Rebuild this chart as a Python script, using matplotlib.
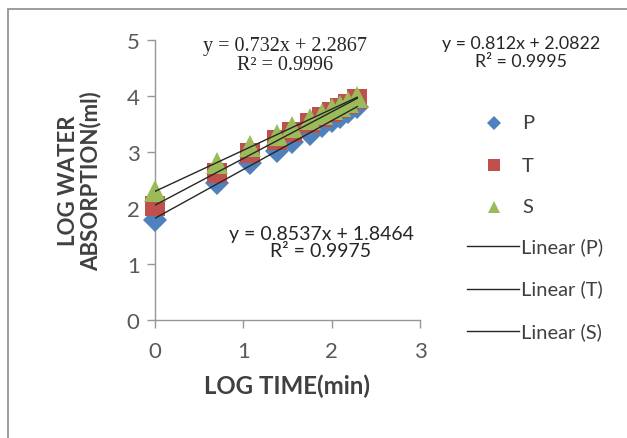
import numpy as np
import matplotlib
matplotlib.use("Agg")
import matplotlib.pyplot as plt
from matplotlib.patches import Rectangle
from matplotlib.lines import Line2D

# ---- data ----
log_time = [0.0, 0.699, 1.079, 1.380, 1.556, 1.756, 1.886, 2.0, 2.097, 2.190, 2.290]
P = [1.78, 2.45, 2.80, 3.02, 3.18, 3.33, 3.46, 3.55, 3.63, 3.72, 3.81]
T = [2.03, 2.63, 2.98, 3.21, 3.36, 3.52, 3.62, 3.72, 3.79, 3.86, 3.95]
S = [2.30, 2.80, 3.10, 3.30, 3.45, 3.59, 3.68, 3.76, 3.83, 3.90, 3.99]
series_names = ["P", "T", "S"]
eq_texts = ["y = 0.8537x + 1.8464\nR² = 0.9975",
            "y = 0.812x + 2.0822\nR² = 0.9995",
            "y = 0.732x + 2.2867\nR² = 0.9996"]
x_ticks = [0, 1, 2, 3]
y_ticks = [0, 1, 2, 3, 4, 5]

colors = ["#4F81BD", "#C0504D", "#9BBB59"]
markers = ["D", "s", "^"]
msizes = [12.5, 14.5, 16]
leg_msizes = [7.5, 8, 9]
sans = ["Lato", "DejaVu Sans"]
tick_color = "#595959"

W, H = 627, 439
fig = plt.figure(figsize=(W / 100, H / 100), dpi=100)

# chart border
fig.patches.append(Rectangle((8 / W, -0.05), 1.1, 1 - 10 / H + 0.05, transform=fig.transFigure,
                             fill=False, edgecolor="#8c8c8c", linewidth=1.2))

ax = fig.add_axes([155 / W, (H - 321) / H, 265 / W, 280 / H])
ax.set_xlim(0, 3)
ax.set_ylim(0, 5)
for side in ["top", "right"]:
    ax.spines[side].set_visible(False)
for side in ["left", "bottom"]:
    ax.spines[side].set_color("#969696")
    ax.spines[side].set_linewidth(1.0)
ax.set_xticks(x_ticks)
ax.set_yticks(y_ticks)
ax.tick_params(axis="both", direction="out", length=6, width=1, color="#969696",
               labelsize=16, labelcolor=tick_color, pad=5)
ax.tick_params(axis="x", pad=9)
for lab in ax.get_xticklabels() + ax.get_yticklabels():
    lab.set_family(sans)

x = np.array(log_time)
for ys, c, m, ms, name in zip([P, T, S], colors, markers, msizes, series_names):
    ax.plot(x, ys, linestyle="none", marker=m, color=c, markersize=ms,
            markeredgewidth=0, clip_on=False, zorder=3)
for ys in [P, T, S]:
    k, b = np.polyfit(x, ys, 1)
    xx = np.array([x.min(), x.max()])
    ax.plot(xx, k * xx + b, color="#262626", linewidth=1.0, zorder=4)

ax.set_xlabel("LOG TIME(min)", fontsize=17.3, fontweight="bold", color="#404040",
              family=sans, labelpad=9)
fig.text(80 / W, 1 - 181 / H, "LOG WATER\nABSORPTION(ml)", rotation=90, ha="center",
         va="center", fontsize=16, fontweight="bold", color="#404040", family=sans,
         linespacing=1.05)

# equation labels
fig.text(285 / W, 1 - 56 / H, eq_texts[2], ha="center", va="center", fontsize=14.5,
         family=["Liberation Serif", "DejaVu Serif"], color="#262626", linespacing=0.95)
fig.text(521 / W, 1 - 53 / H, eq_texts[1], ha="center", va="center", fontsize=12.8,
         family=sans, color="#262626", linespacing=1.1)
fig.text(321 / W, 1 - 243 / H, eq_texts[0], ha="center", va="center", fontsize=14,
         family=sans, color="#262626", linespacing=0.95)

# legend (manual layout)
leg_x_marker = 494 / W
leg_x_text = 522 / W
for i, (c, m, name) in enumerate(zip(colors, markers, series_names)):
    yy = 1 - (124 + 42 * i) / H
    fig.add_artist(Line2D([leg_x_marker], [yy], marker=m, color=c, markersize=leg_msizes[i],
                          markeredgewidth=0, linestyle="none", transform=fig.transFigure))
    fig.text(leg_x_text, yy, name, ha="left", va="center", fontsize=14.5,
             family=sans, color="#404040")
for i, name in enumerate(series_names):
    yy = 1 - (247 + 42.5 * i) / H
    fig.add_artist(Line2D([467 / W, 519 / W], [yy, yy], color="#262626", linewidth=1.0,
                          transform=fig.transFigure))
    fig.text(521 / W, yy, f"Linear ({name})", ha="left", va="center", fontsize=14.5,
             family=sans, color="#404040")

fig.savefig("out.png", dpi=100)
